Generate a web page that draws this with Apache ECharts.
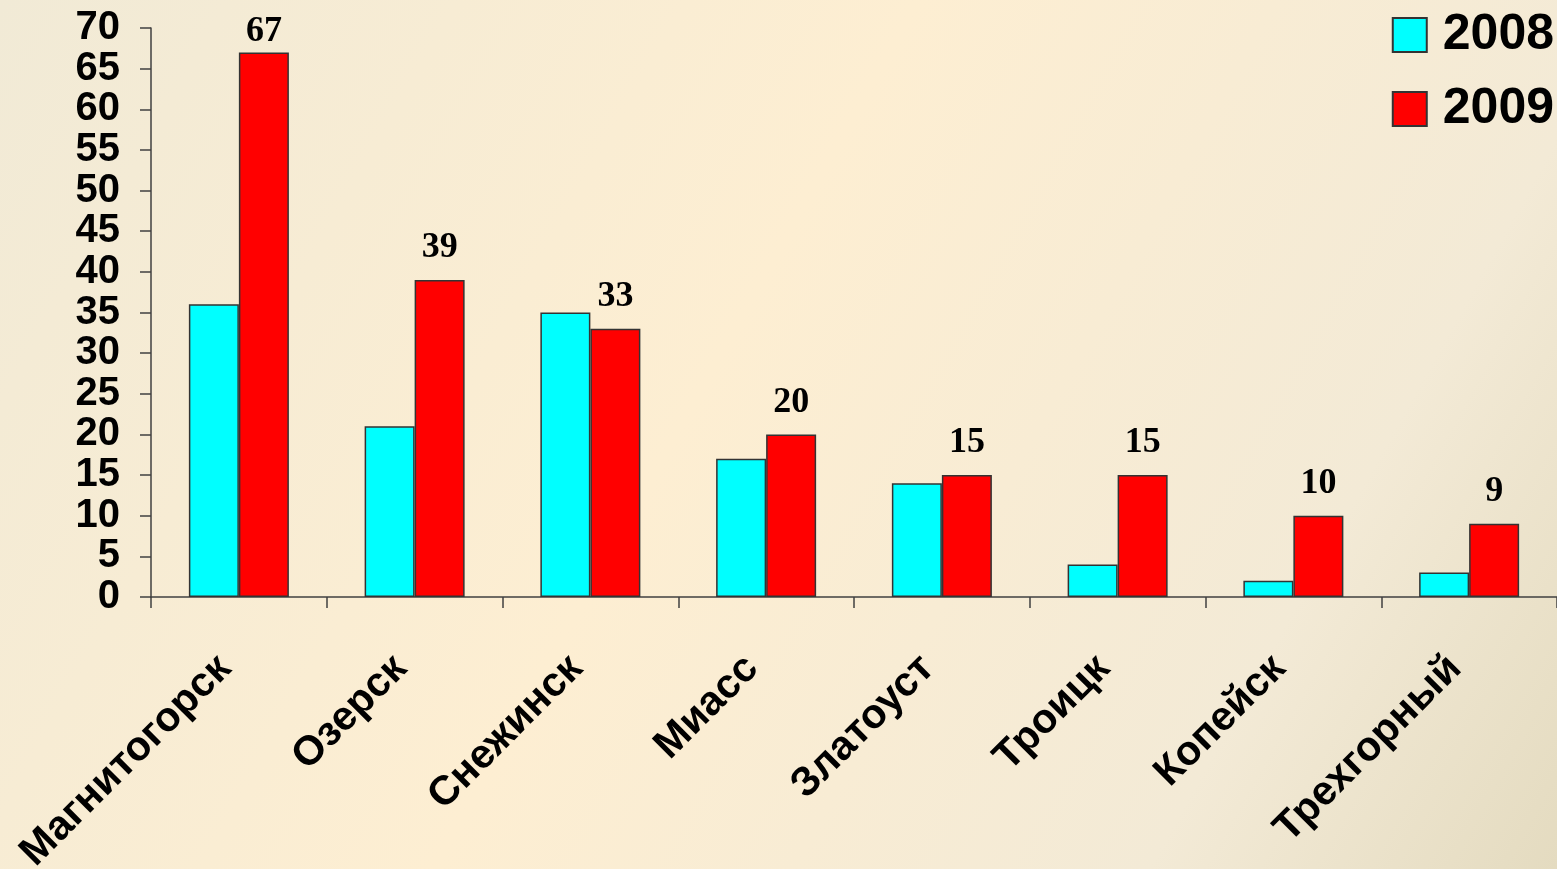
<!DOCTYPE html>
<html>
<head>
<meta charset="utf-8">
<script src="https://cdn.jsdelivr.net/npm/echarts@6/dist/echarts.min.js"></script>
<style>
  html, body { margin: 0; padding: 0; }
  #chart { width: 1557px; height: 869px; }
</style>
</head>
<body>
<div id="chart"></div>
<script>
// города
var cities = ['Магнитогорск', 'Озерск', 'Снежинск', 'Миасс', 'Златоуст', 'Троицк', 'Копейск', 'Трехгорный'];
var values2008 = [36, 21, 35, 17, 14, 4, 2, 3];
var values2009 = [67, 39, 33, 20, 15, 15, 10, 9];
var seriesNames = ['2008', '2009'];
var yTicks = { min: 0, max: 70, interval: 5 };

var chart = echarts.init(document.getElementById('chart'));

var option = {
  backgroundColor: {
    type: 'linear', x: 0, y: 0, x2: 1, y2: 1,
    colorStops: [
      { offset: 0, color: '#f1ead6' },
      { offset: 0.45, color: '#fdeed2' },
      { offset: 0.8, color: '#f3ead6' },
      { offset: 1, color: '#e4dbc0' }
    ]
  },
  animation: false,
  textStyle: { fontFamily: 'Liberation Sans, Arial, sans-serif' },
  legend: {
    data: seriesNames,
    orient: 'vertical',
    right: -2,
    top: 5,
    itemWidth: 34,
    itemHeight: 34,
    itemGap: 24,
    icon: 'rect',
    textStyle: { fontSize: 50, fontWeight: 'bold', color: '#000', padding: [0, 0, 0, 11] }
  },
  grid: { // область графика
    left: 151,
    right: 0,
    top: 28,
    bottom: 272,
    containLabel: false,
    outerBoundsMode: 'none'
  },
  xAxis: {
    type: 'category',
    data: cities,
    axisLine: { lineStyle: { color: '#404040', width: 1.5 } },
    axisTick: { show: true, length: 11, lineStyle: { color: '#404040', width: 1.5 } },
    axisLabel: {
      rotate: 45,
      margin: 51,
      interval: 0,
      padding: [0, 20, 0, 0],
      color: '#000',
      fontSize: 41,
      fontWeight: 'bold',
      fontFamily: 'Liberation Sans, Arial, sans-serif'
    }
  },
  yAxis: {
    type: 'value',
    min: yTicks.min,
    max: yTicks.max,
    interval: yTicks.interval,
    axisLine: { show: true, lineStyle: { color: '#404040', width: 1.5 } },
    axisTick: { show: true, length: 11, lineStyle: { color: '#404040', width: 1.5 } },
    splitLine: { show: false },
    axisLabel: {
      margin: 31,
      showMinLabel: true,
      showMaxLabel: true,
      hideOverlap: false,
      color: '#000',
      fontSize: 40,
      lineHeight: 30,
      fontWeight: 'bold',
      fontFamily: 'Liberation Sans, Arial, sans-serif'
    }
  },
  series: [
    {
      name: seriesNames[0],
      type: 'bar',
      data: values2008,
      barWidth: 50,
      barGap: '0%',
      itemStyle: { color: '#00ffff', borderColor: '#333', borderWidth: 1.5 }
    },
    {
      name: seriesNames[1],
      type: 'bar',
      // подпись над самым высоким столбцом прижата ближе
      data: values2009.map(function (v, i) {
        return i === 0 ? { value: v, label: { distance: 3 } } : v;
      }),
      barWidth: 50,
      barGap: '0%',
      itemStyle: { color: '#ff0000', borderColor: '#333', borderWidth: 1.5 },
      label: {
        show: true,
        position: 'top',
        distance: 14,
        color: '#000',
        fontSize: 36,
        fontWeight: 'bold',
        fontFamily: 'Liberation Serif, Times New Roman, serif'
      }
    }
  ]
};

chart.setOption(option);
</script>
</body>
</html>
